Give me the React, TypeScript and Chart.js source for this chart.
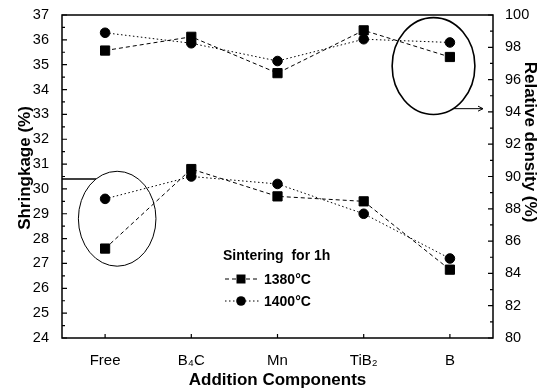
import { useEffect, useRef } from "react";
import { Chart, registerables } from "chart.js";

Chart.register(...registerables);

// ---- data ----
const categories = ["Free", "B₄C", "Mn", "TiB₂", "B"];
const shrinkage1380 = [27.6, 30.8, 29.7, 29.5, 26.75];
const shrinkage1400 = [29.6, 30.5, 30.2, 29.0, 27.2];
const density1380 = [97.8, 98.65, 96.4, 99.05, 97.4];
const density1400 = [98.9, 98.25, 97.15, 98.5, 98.3];
const seriesLabels = ["1380°C", "1400°C"];
const legendTitle = "Sintering  for 1h";
const xTitle = "Addition Components";
const leftTitle = "Shringkage (%)";
const rightTitle = "Relative density (%)";
const leftRange = [24, 37];
const rightRange = [80, 100];
const leftMinorStep = 0.5;
const rightMinorStep = 1;

// annotation ellipses (data units) with pointer to their axis
const ellipses = [
  { axis: "y", cx: 0.14, cy: 28.8, rx: 0.45, ry: 1.91, pointer: 30.4, side: "left" },
  { axis: "y1", cx: 3.81, cy: 96.84, rx: 0.48, ry: 3.0, pointer: 94.2, side: "right" },
];

const FONT = "'Liberation Sans', Arial, Helvetica, sans-serif";

const decorPlugin = {
  id: "decor",
  afterDraw(chart: any) {
    const ctx = chart.ctx as CanvasRenderingContext2D;
    const { left, right, top, bottom } = chart.chartArea;
    const x = chart.scales.x;
    const y = chart.scales.y;
    const y1 = chart.scales.y1;
    ctx.save();
    ctx.strokeStyle = "#000";
    ctx.fillStyle = "#000";
    // frame
    ctx.lineWidth = 1.5;
    ctx.setLineDash([]);
    ctx.strokeRect(left, top, right - left, bottom - top);
    // ticks (inward)
    ctx.lineWidth = 1.2;
    ctx.beginPath();
    for (let v = leftRange[0]; v <= leftRange[1] + 1e-9; v += leftMinorStep) {
      const py = y.getPixelForValue(v);
      const len = Math.abs(v - Math.round(v)) < 1e-6 ? 5 : 3;
      ctx.moveTo(left, py);
      ctx.lineTo(left + len, py);
    }
    for (let v = rightRange[0]; v <= rightRange[1] + 1e-9; v += rightMinorStep) {
      const py = y1.getPixelForValue(v);
      const len = Math.round(v) % 2 === 0 ? 5 : 3;
      ctx.moveTo(right, py);
      ctx.lineTo(right - len, py);
    }
    for (let i = 0; i < categories.length; i++) {
      const px = x.getPixelForValue(i);
      ctx.moveTo(px, bottom);
      ctx.lineTo(px, bottom - 4);
    }
    ctx.stroke();

    // ellipses + pointers
    ctx.lineWidth = 1;
    for (const e of ellipses) {
      const sc = chart.scales[e.axis];
      const cxp = x.getPixelForValue(e.cx);
      const rxp = Math.abs(x.getPixelForValue(e.cx + e.rx) - cxp);
      const cyp = sc.getPixelForValue(e.cy);
      const ryp = Math.abs(sc.getPixelForValue(e.cy + e.ry) - cyp);
      ctx.beginPath();
      ctx.ellipse(cxp, cyp, rxp, ryp, 0, 0, Math.PI * 2);
      ctx.stroke();
      const py = sc.getPixelForValue(e.pointer);
      const dy = (py - cyp) / ryp;
      const dx = rxp * Math.sqrt(Math.max(0, 1 - dy * dy));
      ctx.beginPath();
      if (e.side === "left") {
        ctx.lineWidth = 1.6;
        ctx.moveTo(left, py);
        ctx.lineTo(cxp - dx, py);
        ctx.stroke();
      } else {
        ctx.lineWidth = 1;
        const tip = right - 10;
        ctx.moveTo(cxp + dx, py);
        ctx.lineTo(tip, py);
        ctx.moveTo(tip - 5, py - 2.5);
        ctx.lineTo(tip, py);
        ctx.lineTo(tip - 5, py + 2.5);
        ctx.stroke();
      }
    }

    // axis titles
    ctx.textAlign = "center";
    ctx.textBaseline = "middle";
    ctx.font = `bold 17px ${FONT}`;
    ctx.fillText(xTitle, (left + right) / 2, 380);
    ctx.save();
    ctx.translate(25, 168);
    ctx.rotate(-Math.PI / 2);
    ctx.fillText(leftTitle, 0, 0);
    ctx.restore();
    ctx.save();
    ctx.translate(530, 142);
    ctx.rotate(Math.PI / 2);
    ctx.fillText(rightTitle, 0, 0);
    ctx.restore();

    // legend
    ctx.textAlign = "left";
    ctx.font = `bold 14px ${FONT}`;
    ctx.fillText(legendTitle, 223, 256);
    const rows = [
      { label: seriesLabels[0], dash: [4, 3], style: "rect", y: 279 },
      { label: seriesLabels[1], dash: [1.5, 2.5], style: "circle", y: 301 },
    ];
    for (const r of rows) {
      ctx.lineWidth = 1;
      ctx.setLineDash(r.dash);
      ctx.beginPath();
      ctx.moveTo(225, r.y);
      ctx.lineTo(259, r.y);
      ctx.stroke();
      ctx.setLineDash([]);
      ctx.beginPath();
      if (r.style === "rect") ctx.rect(241 - 4.5, r.y - 4.5, 9, 9);
      else ctx.arc(241, r.y, 4.8, 0, Math.PI * 2);
      ctx.fill();
      ctx.font = `bold 14px ${FONT}`;
      ctx.fillText(r.label, 264, r.y + 1);
    }
    ctx.restore();
  },
};

export default function App() {
  const ref = useRef<HTMLCanvasElement | null>(null);
  useEffect(() => {
    document.body.style.margin = "0";
    if (!ref.current) return;
    const lineBase = {
      borderColor: "#000",
      backgroundColor: "#000",
      pointBackgroundColor: "#000",
      pointBorderColor: "#000",
      pointBorderWidth: 1,
      borderWidth: 1,
      fill: false,
      tension: 0,
    };
    const sq = { ...lineBase, borderDash: [4, 3], pointStyle: "rect", pointRadius: 6.5 };
    const ci = { ...lineBase, borderDash: [1.5, 2.5], pointStyle: "circle", pointRadius: 4.8 };
    const chart = new Chart(ref.current, {
      type: "line",
      data: {
        labels: categories,
        datasets: [
          { ...sq, label: seriesLabels[0], data: shrinkage1380, yAxisID: "y" },
          { ...ci, label: seriesLabels[1], data: shrinkage1400, yAxisID: "y" },
          { ...sq, label: seriesLabels[0], data: density1380, yAxisID: "y1" },
          { ...ci, label: seriesLabels[1], data: density1400, yAxisID: "y1" },
        ] as any,
      },
      options: {
        animation: false,
        responsive: false,
        layout: { padding: { top: 15, left: 0, right: 0, bottom: 0 } },
        plugins: { legend: { display: false }, tooltip: { enabled: false } },
        scales: {
          x: {
            type: "category",
            offset: true,
            grid: { display: false },
            border: { display: false },
            ticks: {
              color: "#000",
              font: { family: FONT, size: 15 },
              padding: 6,
              maxRotation: 0,
              autoSkip: false,
            },
            afterFit: (s: any) => {
              s.height = 54;
            },
          },
          y: {
            position: "left",
            min: leftRange[0],
            max: leftRange[1],
            grid: { display: false },
            border: { display: false },
            ticks: { stepSize: 1, color: "#000", font: { family: FONT, size: 14.5 }, padding: 5 },
            afterFit: (s: any) => {
              s.width = 62;
            },
          },
          y1: {
            position: "right",
            min: rightRange[0],
            max: rightRange[1],
            grid: { display: false },
            border: { display: false },
            ticks: { stepSize: 2, color: "#000", font: { family: FONT, size: 14.5 }, padding: 4 },
            afterFit: (s: any) => {
              s.width = 52;
            },
          },
        },
      } as any,
      plugins: [decorPlugin],
    });
    return () => chart.destroy();
  }, []);
  return (
    <canvas ref={ref} width={545} height={392} style={{ display: "block", width: 545, height: 392 }} />
  );
}
